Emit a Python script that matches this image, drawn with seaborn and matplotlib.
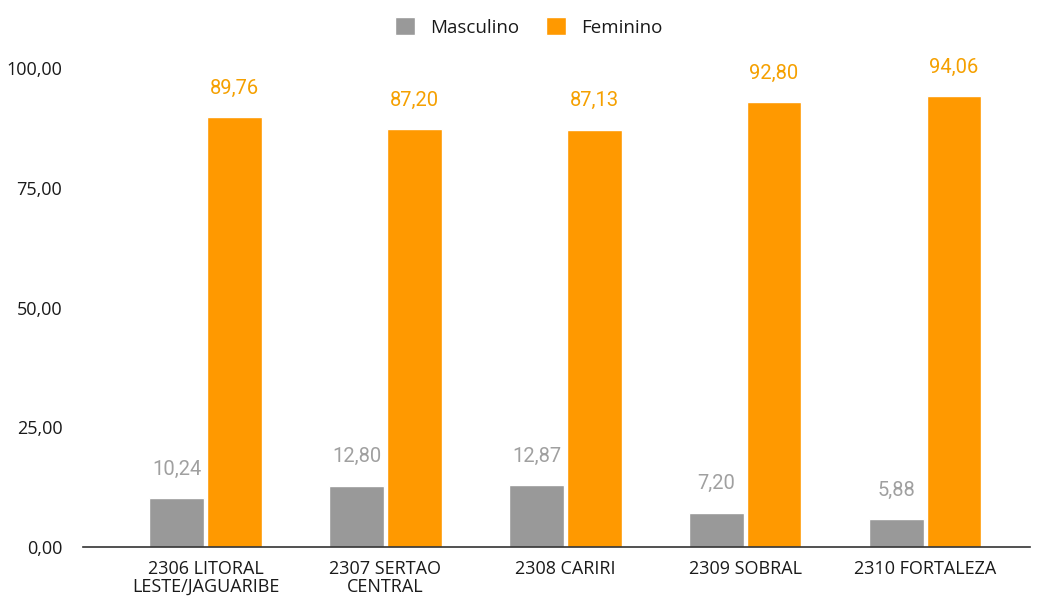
import pandas as pd
import numpy as np
import seaborn as sns
import matplotlib.pyplot as plt
from matplotlib.patches import Patch

regioes = ['2306 LITORAL\nLESTE/JAGUARIBE', '2307 SERTAO\nCENTRAL', '2308 CARIRI',
           '2309 SOBRAL', '2310 FORTALEZA']
masculino = [10.24, 12.80, 12.87, 7.20, 5.88]
feminino = [89.76, 87.20, 87.13, 92.80, 94.06]
yticks = [0, 25, 50, 75, 100]

cor_m = '#999999'
cor_f = '#FF9900'

df = pd.DataFrame({'regiao': regioes * 2,
                   'sexo': ['Masculino'] * 5 + ['Feminino'] * 5,
                   'valor': masculino + feminino})

sns.set_style('white')
plt.rcParams['font.family'] = ['Open Sans', 'DejaVu Sans']

fig = plt.figure(figsize=(10.39, 5.96), dpi=100)
ax = fig.add_axes([0.080, 0.082, 0.911, 0.804])

sns.barplot(data=df, x='regiao', y='valor', hue='sexo',
            palette={'Masculino': cor_m, 'Feminino': cor_f},
            width=0.64, gap=0.05, legend=False, ax=ax, saturation=1)

for cont, cor in zip(ax.containers, ['#a0a0a0', '#f5a000']):
    labels = [f'{v:.2f}'.replace('.', ',') for v in cont.datavalues]
    ax.bar_label(cont, labels=labels, padding=14, color=cor, fontsize=14.5,
                 family=['Roboto', 'DejaVu Sans'], clip_on=False)

ax.set_ylim(0, 100)
ax.set_xlim(-0.68, 4.58)
ax.set_yticks(yticks)
ax.set_yticklabels([f'{v:.2f}'.replace('.', ',') for v in yticks])
ax.tick_params(axis='y', length=0, pad=15, labelsize=13, labelcolor='#1a1a1a')
ax.tick_params(axis='x', length=0, pad=9, labelsize=13, labelcolor='#1a1a1a')
for lbl in ax.get_xticklabels():
    lbl.set_linespacing(1.0)
ax.set_xlabel('')
ax.set_ylabel('')
sns.despine(ax=ax, left=True)
ax.spines['bottom'].set_color('#333333')
ax.spines['bottom'].set_linewidth(1.2)

handles = [Patch(facecolor=cor_m, label='Masculino'),
           Patch(facecolor=cor_f, label='Feminino')]
fig.legend(handles=handles, loc='center', bbox_to_anchor=(0.509, 0.955), ncol=2,
           frameon=False, fontsize=13.5, handlelength=1.1, handleheight=1.1,
           columnspacing=1.4, handletextpad=0.8, labelcolor='#1a1a1a')

fig.savefig('out.png', dpi=100)
